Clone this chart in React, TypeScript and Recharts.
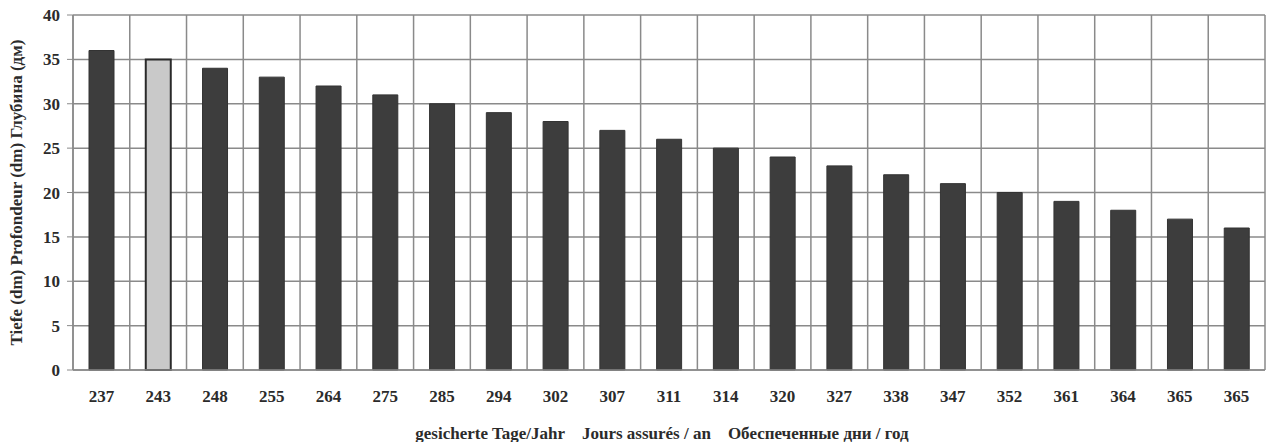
import React from 'react';
import { BarChart, Bar, XAxis, YAxis, CartesianGrid, Cell, Label } from 'recharts';

const days = ['237', '243', '248', '255', '264', '275', '285', '294', '302', '307', '311', '314', '320', '327', '338', '347', '352', '361', '364', '365', '365'];
const depth = [36, 35, 34, 33, 32, 31, 30, 29, 28, 27, 26, 25, 24, 23, 22, 21, 20, 19, 18, 17, 16];
const highlighted = [1];
const yTicks = [0, 5, 10, 15, 20, 25, 30, 35, 40];

const data = days.map((d, i) => ({ idx: i, day: d, depth: depth[i] }));

const font = '"Liberation Serif", "DejaVu Serif", serif';
const ink = '#2b2b2b';
const grid = '#8a8a8a';
const gap = '\u00a0\u00a0\u00a0\u00a0';

const App: React.FC = () => {
    return (
        <div style={{ position: 'absolute', left: 0, top: 0, background: '#fff' }}>
            <BarChart
                width={1273}
                height={442}
                data={data}
                margin={{ top: 15, right: 8, left: 0, bottom: 0 }}
                barCategoryGap={0}
            >
                <CartesianGrid
                    stroke={grid}
                    strokeWidth={1.5}
                    verticalCoordinatesGenerator={({ offset }: any) =>
                        data.map((_, i) => offset.left + (i * offset.width) / data.length).concat(offset.left + offset.width)
                    }
                />
                <XAxis
                    dataKey="idx"
                    height={72}
                    tickLine={false}
                    axisLine={{ stroke: grid, strokeWidth: 1.5 }}
                    interval={0}
                    tickFormatter={(v: number) => days[v]}
                    tick={{ fill: ink, fontSize: 17, fontWeight: 'bold', fontFamily: font, dy: 12 }}
                >
                    <Label
                        value={`gesicherte Tage/Jahr${gap}Jours assurés / an${gap}Обеспеченные дни / год`}
                        position="insideBottom"
                        offset={3}
                        dx={-7}
                        style={{ fill: ink, fontSize: 17, fontWeight: 'bold', fontFamily: font }}
                    />
                </XAxis>
                <YAxis
                    width={73}
                    domain={[0, 40]}
                    ticks={yTicks}
                    tickSize={6}
                    tickLine={{ stroke: grid }}
                    axisLine={{ stroke: grid, strokeWidth: 1.5 }}
                    tick={{ fill: ink, fontSize: 17, fontWeight: 'bold', fontFamily: font, dx: -5 }}
                >
                    <Label
                        value="Tiefe (dm) Profondeur (dm) Глубина (дм)"
                        angle={-90}
                        position="insideLeft"
                        offset={16}
                        style={{ textAnchor: 'middle', fill: ink, fontSize: 17, fontWeight: 'bold', fontFamily: font }}
                    />
                </YAxis>
                <Bar dataKey="depth" barSize={25} isAnimationActive={false}>
                    {data.map((d) => (
                        <Cell
                            key={d.idx}
                            fill={highlighted.includes(d.idx) ? '#c9c9c9' : '#3d3d3d'}
                            stroke={highlighted.includes(d.idx) ? '#2a2a2a' : '#333'}
                            strokeWidth={highlighted.includes(d.idx) ? 2 : 1}
                        />
                    ))}
                </Bar>
            </BarChart>
        </div>
    );
};

export default App;
